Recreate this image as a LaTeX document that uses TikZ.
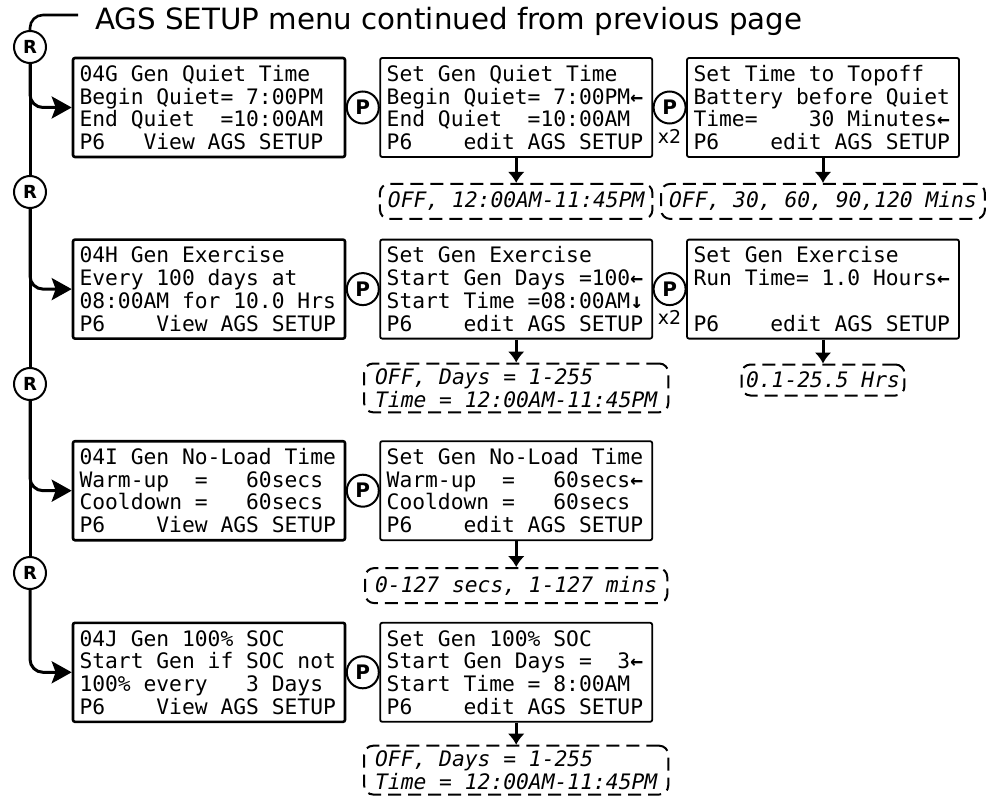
\documentclass[tikz,border=0pt]{standalone}
\usepackage{fontspec}
\setmainfont{DejaVu Sans}
\setmonofont{DejaVu Sans Mono}
\usetikzlibrary{arrows.meta,positioning,calc}
\newcommand{\lcdfont}{\ttfamily\fontsize{21.3pt}{22.7pt}\selectfont}
\newcommand{\rangefont}{\ttfamily\itshape\fontsize{21.3pt}{22.7pt}\selectfont}
\newcommand{\cur}{\textbf{←}}
\newcommand{\curdown}{\textbf{↓}}

\begin{document}
\begin{tikzpicture}[x=1pt,y=-1pt,node distance=33pt]
\tikzstyle{fixedspace}=[align=flush left, execute at begin node={\spaceskip=12.82pt\relax\xspaceskip=12.82pt\relax}]
\tikzstyle{lcd}=[draw, line width=2.6pt, rounded corners=2pt, text width=259pt, inner xsep=6.5pt, minimum height=99pt, fixedspace, font=\lcdfont]
\tikzstyle{lcdset}=[lcd, line width=1.8pt]
\tikzstyle{rangebox}=[draw, dash pattern=on 13pt off 7pt, line width=2pt, rounded corners=9pt, fixedspace, inner xsep=8pt, inner ysep=5pt, minimum height=35pt, font=\rangefont]
\tikzstyle{rkey}=[circle, draw, line width=2pt, minimum size=32pt, inner sep=0pt, font=\bfseries\fontsize{18pt}{18pt}\selectfont]
\tikzstyle{pkey}=[rkey, font=\bfseries\fontsize{20pt}{20pt}\selectfont]
\tikzstyle{down}=[line width=3pt, -{Latex[length=11pt,width=17pt]}]
\tikzstyle{branch}=[line width=3pt, rounded corners=13pt, -{Stealth[length=20pt,width=22pt,inset=4pt]}]
\useasboundingbox (0,0) rectangle (988,797);

\node[anchor=base west, inner sep=0pt, font=\fontsize{29.3pt}{30pt}\selectfont] (title) at (95,30) {AGS SETUP menu continued from previous page};
\coordinate (tl) at (78,15);

\node[rkey] (r1) at (30,47) {R};
\node[rkey] (r2) at (30,192) {R};
\node[rkey] (r3) at (30,384) {R};
\node[rkey] (r4) at (30,573) {R};

\node[lcd] (g04) at (209,107.5) {04G Gen Quiet Time\\Begin Quiet= 7:00PM\\End Quiet~~=10:00AM\\P6~~~View AGS SETUP};
\node[lcdset, right=of g04] (gset) {Set Gen Quiet Time\\Begin Quiet= 7:00PM\cur\\End Quiet~~=10:00AM\\P6~~~~edit AGS SETUP};
\node[lcdset, right=of gset] (gtop) {Set Time to Topoff\\Battery before Quiet\\Time=~~~~30 Minutes\cur\\P6~~~~edit AGS SETUP};

\node[lcd, below=80pt of g04] (h04) {04H Gen Exercise\\Every 100 days at\\08:00AM for 10.0 Hrs\\P6~~~~View AGS SETUP};
\node[lcdset, right=of h04] (hset) {Set Gen Exercise\\Start Gen Days =100\cur\\Start Time =08:00AM\curdown\\P6~~~~edit AGS SETUP};
\node[lcdset, right=of hset] (hrun) {Set Gen Exercise\\Run Time= 1.0 Hours\cur\\~\\P6~~~~edit AGS SETUP};

\node[lcd, below=100pt of h04] (i04) {04I Gen No-Load Time\\Warm-up~~=~~~60secs\\Cooldown =~~~60secs\\P6~~~~View AGS SETUP};
\node[lcdset, right=of i04] (iset) {Set Gen No-Load Time\\Warm-up~~=~~~60secs\cur\\Cooldown =~~~60secs\\P6~~~~edit AGS SETUP};

\node[lcd, below=80pt of i04] (j04) {04J Gen 100\% SOC\\Start Gen if SOC not\\100\% every~~~3 Days\\P6~~~~View AGS SETUP};
\node[lcdset, right=of j04] (jset) {Set Gen 100\% SOC\\Start Gen Days =~~3\cur\\Start Time = 8:00AM\\P6~~~~edit AGS SETUP};

\node[pkey] (pg) at ($(g04.east)!0.5!(gset.west)$) {P};
\node[pkey] (pg2) at ($(gset.east)!0.5!(gtop.west)$) {P};
\node[font=\fontsize{19pt}{19pt}\selectfont, below=1pt of pg2] (xg) {x2};
\node[pkey] (ph) at ($(h04.east)!0.5!(hset.west)$) {P};
\node[pkey] (ph2) at ($(hset.east)!0.5!(hrun.west)$) {P};
\node[font=\fontsize{19pt}{19pt}\selectfont, below=1pt of ph2] (xh) {x2};
\node[pkey] (pi) at ($(i04.east)!0.5!(iset.west)$) {P};
\node[pkey] (pj) at ($(j04.east)!0.5!(jset.west)$) {P};

\node[rangebox, below=25pt of gset] (gset r) {OFF, 12:00AM-11:45PM};
\node[rangebox, below=25pt of gtop] (gtop r) {OFF, 30, 60, 90,120 Mins};
\node[rangebox, inner xsep=11pt, below=23pt of hset] (hset r) {OFF, Days = 1-255\\Time = 12:00AM-11:45PM};
\node[rangebox, inner xsep=4.5pt, minimum height=31pt, below=24pt of hrun] (hrun r) {0.1-25.5 Hrs};
\node[rangebox, inner xsep=10pt, below=26pt of iset] (iset r) {0-127 secs, 1-127 mins};
\node[rangebox, inner xsep=11pt, below=22pt of jset] (jset r) {OFF, Days = 1-255\\Time = 12:00AM-11:45PM};

\draw[line width=2.6pt, rounded corners=13pt] (r1.north) |- (tl);
\draw[line width=3pt] (r1) -- (r2) (r2) -- (r3) (r3) -- (r4);
\draw[branch] (r1.south) |- (g04.west);
\draw[branch] (r2.south) |- (h04.west);
\draw[branch] (r3.south) |- (i04.west);
\draw[branch] (r4.south) |- (j04.west);

\draw[down] (gset) -- (gset r);
\draw[down] (gtop) -- (gtop r);
\draw[down] (hset) -- (hset r);
\draw[down] (hrun) -- (hrun r);
\draw[down] (iset) -- (iset r);
\draw[down] (jset) -- (jset r);
\end{tikzpicture}
\end{document}
